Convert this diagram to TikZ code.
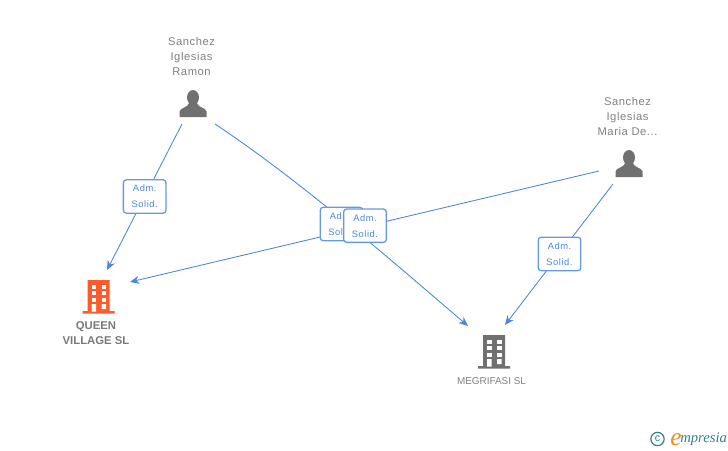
\documentclass[tikz,border=0pt]{standalone}
\usepackage{fontspec}
\setmainfont{Liberation Sans}
\newfontfamily\logofont{Liberation Serif}
\usepackage{tikz}
\usetikzlibrary{arrows.meta,positioning}
\definecolor{linkblue}{HTML}{4A86E0}
\definecolor{iconred}{HTML}{FF5A2B}
\definecolor{icongrey}{HTML}{707070}
\definecolor{textgrey}{HTML}{808080}
\definecolor{logoteal}{HTML}{2F7F8F}
\definecolor{logoorange}{HTML}{F08A1D}
\tikzstyle{entity} = [text=textgrey, font=\fontsize{8.4pt}{11.25pt}\selectfont\addfontfeatures{LetterSpace=5}, align=center]
\tikzstyle{boldentity} = [entity, text=textgrey!95!black, font=\fontsize{8.5pt}{11.25pt}\selectfont\bfseries]
\tikzstyle{smallentity} = [entity, font=\fontsize{7.45pt}{11.25pt}\selectfont]
\tikzstyle{role} = [rectangle, draw=linkblue!85, line width=0.95pt, fill=white, rounded corners=2.2pt, minimum width=32pt, minimum height=25pt, inner sep=0pt, align=center, text=linkblue, font=\fontsize{7pt}{12pt}\selectfont\addfontfeatures{LetterSpace=6}]
\tikzstyle{link} = [draw=linkblue, line width=0.65pt, -{Stealth[length=7pt,width=6pt]}]
% person and building, drawn from their centre
\newcommand{\persona}[1]{
    \fill[icongrey, shift={(#1)}] (0,-6) ellipse (6 and 7.5)
        (-13.5,13.5) -- (-13.5,8) .. controls (-13,4) and (-5,4.5) .. (-3.5,-1) -- (3.5,-1)
        .. controls (5,4.5) and (13,4) .. (13.5,8) -- (13.5,13.5) -- cycle;
}
\newcommand{\edificio}[2]{
    \begin{scope}[shift={(#1)}]
        \fill[#2] (-11,-16.5) rectangle (11,15) (-16,14.5) rectangle (16,17);
        \foreach \wx in {-7,3} \foreach \wy in {-12,-6,1} \fill[white] (\wx,\wy) rectangle ++(4.5,4);
        \fill[white] (-7,7.5) rectangle ++(4.5,7.5) (3,7.5) rectangle ++(4.5,5);
    \end{scope}
}
\begin{document}
\begin{tikzpicture}[x=0.75pt,y=-0.75pt]
    \useasboundingbox (0,0) rectangle (728,450);

    \node [entity] (ramon) at (191.5,56) {Sanchez\\Iglesias\\Ramon};
    \node [entity] (maria) at (627.5,116) {Sanchez\\Iglesias\\Maria De...};
    \node [boldentity] (queen) at (96,333) {QUEEN\\VILLAGE SL};
    \node [smallentity] (megrifasi) at (491.5,381) {MEGRIFASI SL};

    \persona{193,103.5}
    \persona{629,163.5}
    \edificio{98.5,296.5}{iconred}
    \edificio{494,351.5}{icongrey}

    \coordinate (r1) at (182,124);
    \coordinate (r2) at (215,124);
    \coordinate (m1) at (599,171);
    \coordinate (m2) at (613,184);
    \coordinate (q1) at (107,270);
    \coordinate (q2) at (130,282);
    \coordinate (g1) at (468,326);
    \coordinate (g2) at (505,325);

    \draw[link](r1) -- (q1);
    \draw[link](r2) .. controls (299,180) and (384,254) .. (g1);
    \draw[link](m1) -- (q2);
    \draw[link](m2) -- (g2);

    \node [role] (adm1) at (144.7,196.5) {Adm.\\Solid.};
    \node [role] (adm2) at (341.5,224) {Adm.\\Solid.};
    \node [role] (adm3) at (365,225.7) {Adm.\\Solid.};
    \node [role] (adm4) at (559.5,254) {Adm.\\Solid.};

    \node [circle, draw=logoteal, line width=0.9pt, minimum size=10pt, inner sep=0pt, text=logoteal, font=\fontsize{8pt}{8pt}\selectfont] (copy) at (657.5,439) {c};
    \node [text=logoteal, font=\logofont\itshape\fontsize{11pt}{11pt}\selectfont, anchor=west, inner sep=0pt] (logo) at (680,439.5) {mpresia};
    \node [text=logoorange, font=\logofont\itshape\fontsize{19pt}{19pt}\selectfont, left=-1.5pt of logo.west, inner sep=0pt] (logoe) {e};
\end{tikzpicture}
\end{document}
